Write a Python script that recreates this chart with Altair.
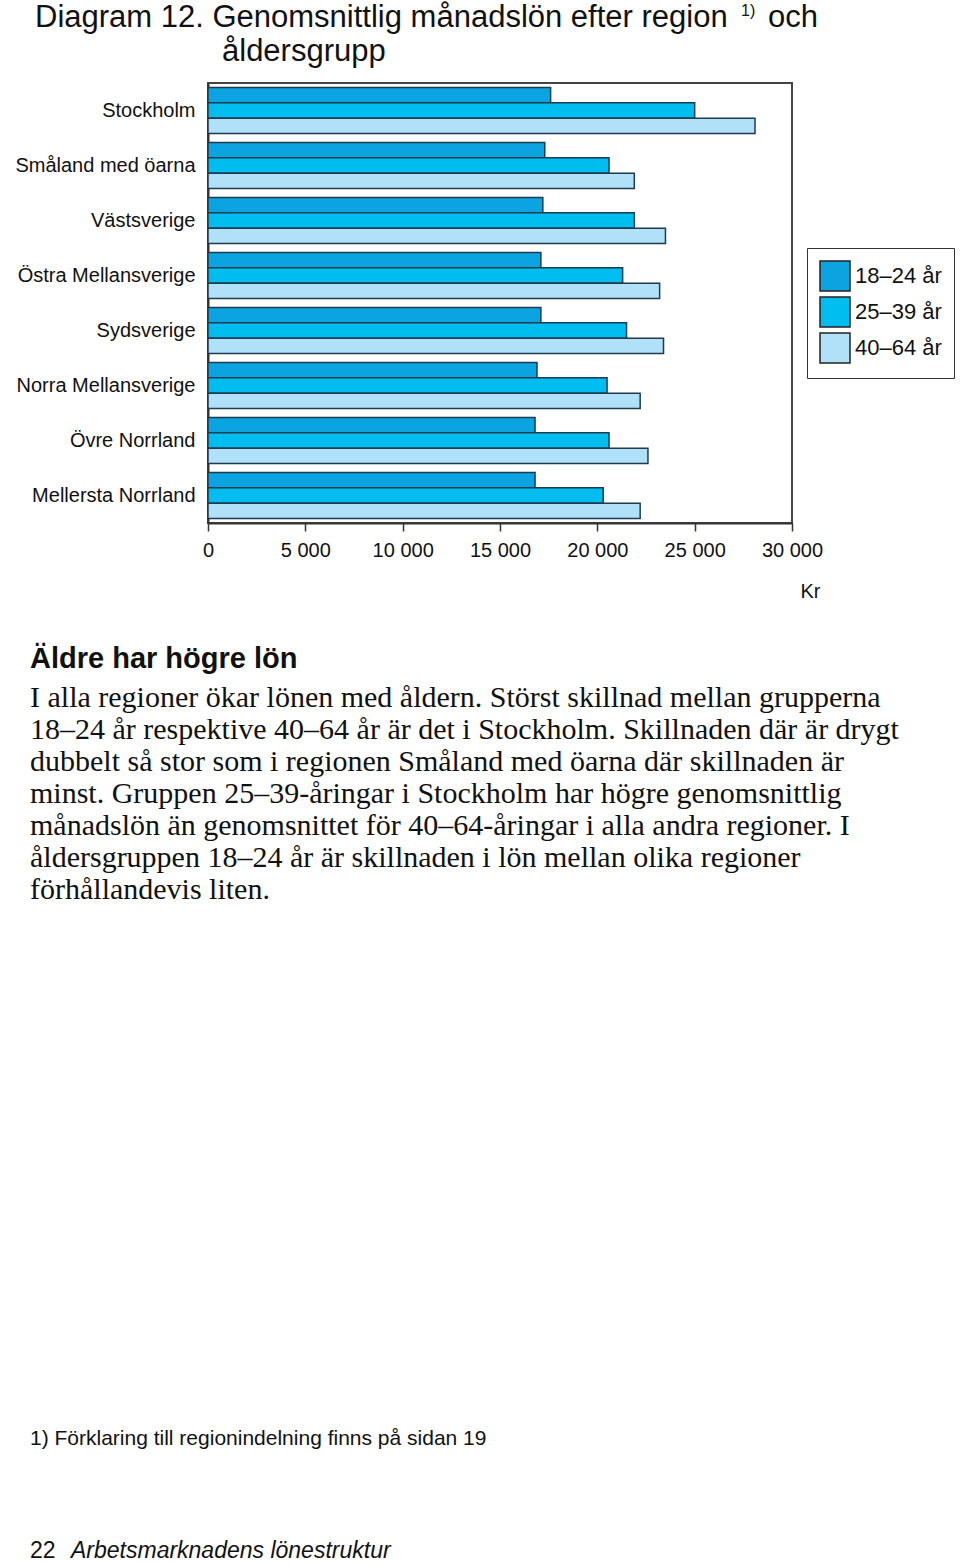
import altair as alt
import pandas as pd

# ---- data ----
regions = ["Stockholm", "Småland med öarna", "Västsverige", "Östra Mellansverige",
           "Sydsverige", "Norra Mellansverige", "Övre Norrland", "Mellersta Norrland"]
age_groups = ["18–24 år", "25–39 år", "40–64 år"]
lon_18_24 = [17600, 17300, 17200, 17100, 17100, 16900, 16800, 16800]
lon_25_39 = [25000, 20600, 21900, 21300, 21500, 20500, 20600, 20300]
lon_40_64 = [28100, 21900, 23500, 23200, 23400, 22200, 22600, 22200]
x_ticks = [0, 5000, 10000, 15000, 20000, 25000, 30000]
bar_colors = ["#0ba3e0", "#00bdf0", "#b0e1f8"]

title_line1 = "Diagram 12. Genomsnittlig månadslön efter region"
title_sup = "1)"
title_och = "och"
title_line2 = "åldersgrupp"
heading = "Äldre har högre lön"
paragraph_lines = [
    "I alla regioner ökar lönen med åldern. Störst skillnad mellan grupperna",
    "18–24 år respektive 40–64 år är det i Stockholm. Skillnaden där är drygt",
    "dubbelt så stor som i regionen Småland med öarna där skillnaden är",
    "minst. Gruppen 25–39-åringar i Stockholm har högre genomsnittlig",
    "månadslön än genomsnittet för 40–64-åringar i alla andra regioner. I",
    "åldersgruppen 18–24 år är skillnaden i lön mellan olika regioner",
    "förhållandevis liten.",
]
footnote = "1) Förklaring till regionindelning finns på sidan 19"
page_no = "22"
page_title = "Arbetsmarknadens lönestruktur"

rows = []
for series, vals in zip(age_groups, [lon_18_24, lon_25_39, lon_40_64]):
    for r, v in zip(regions, vals):
        rows.append({"region": r, "age": series, "lon": v})
df = pd.DataFrame(rows)

SANS = "Liberation Sans"
SERIF = "Liberation Serif"

bars = alt.Chart(df).mark_bar(stroke="#1f3b4d", strokeWidth=1.5).encode(
    y=alt.Y("region:N", sort=regions,
            scale=alt.Scale(paddingInner=0.16, paddingOuter=0.08),
            axis=alt.Axis(title=None, ticks=False, labelFontSize=20, labelPadding=13,
                          labelFont=SANS, labelColor="#111", domainColor="#333",
                          domainWidth=2, labelLimit=300)),
    yOffset=alt.YOffset("age:N", sort=age_groups),
    x=alt.X("lon:Q", scale=alt.Scale(domain=[0, 30000], nice=False),
            axis=alt.Axis(values=x_ticks, grid=False,
                          labelExpr="replace(format(datum.value, ','), ',', ' ')",
                          tickSize=8, tickColor="#333", tickWidth=1.5,
                          domainColor="#333", domainWidth=2,
                          labelFontSize=20, labelFont=SANS, labelColor="#111",
                          labelPadding=9, labelFlush=False,
                          title="Kr", titleFont=SANS, titleFontSize=20,
                          titleFontWeight="normal", titleColor="#111",
                          titleX=592, titleY=74, titleAlign="left",
                          titleBaseline="alphabetic", titleAnchor="start")),
    color=alt.Color("age:N", sort=age_groups,
                    scale=alt.Scale(domain=age_groups, range=bar_colors),
                    legend=alt.Legend(title=None, orient="none", legendX=599, legendY=165,
                                      symbolType="square", symbolSize=900,
                                      symbolStrokeColor="#222", symbolStrokeWidth=1.5,
                                      symbolOpacity=1,
                                      labelFontSize=22, labelFont=SANS, labelColor="#111",
                                      labelOffset=4, rowPadding=0, padding=12,
                                      strokeColor="#333", fillColor="white")),
)


def txt(text, x, y, size, font=SANS, weight="normal", style="normal", line_height=None):
    kw = dict(x=x, y=y, align="left", baseline="alphabetic", fontSize=size, font=font,
              fontWeight=weight, fontStyle=style, color="#111", lineBreak="\n")
    if line_height:
        kw["lineHeight"] = line_height
    return alt.Chart(pd.DataFrame({"t": [text]})).mark_text(**kw).encode(text="t:N")


layers = [
    bars,
    txt(title_line1, -173, -56, 31),
    txt(title_sup, 533, -67, 16),
    txt(title_och, 560, -56, 31),
    txt(title_line2, 14, -22, 31),
    txt(heading, -178, 585, 29, weight="bold"),
    txt("\n".join(paragraph_lines), -178, 624, 30, font=SERIF, line_height=32),
    txt(footnote, -178, 1362, 21),
    txt(page_no, -178, 1475, 23),
    txt(page_title, -137, 1475, 23, style="italic"),
]

chart = alt.layer(*layers).properties(
    width=584, height=440,
    autosize=alt.AutoSizeParams(type="none"),
    padding={"left": 208, "top": 83, "right": 168, "bottom": 1041},
    background="white",
).configure_view(stroke="#444", strokeWidth=2)

chart.save("out.html", embed_options={"renderer": "svg", "actions": False})
